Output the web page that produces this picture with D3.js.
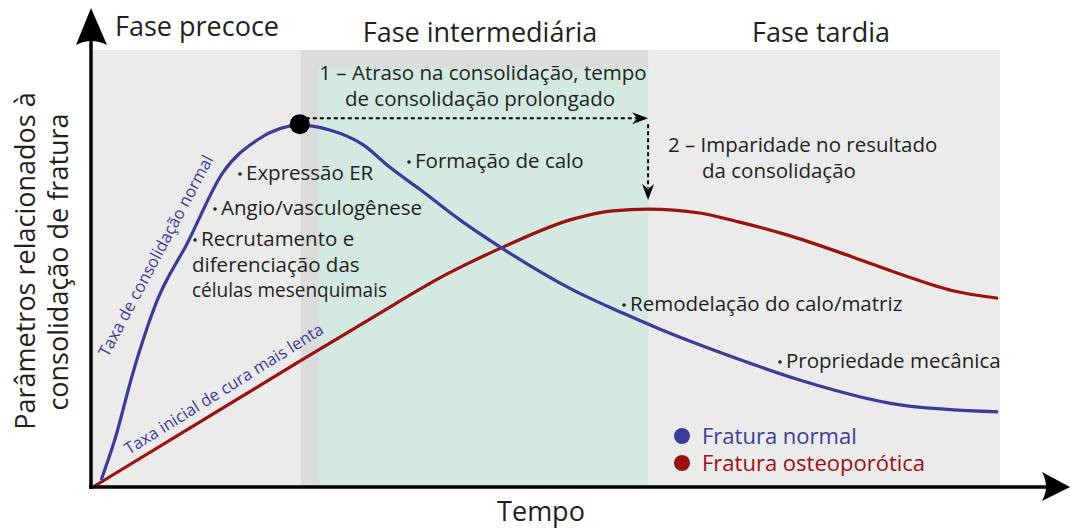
<!DOCTYPE html>
<html>
<head>
<meta charset="utf-8">
<script src="https://cdn.jsdelivr.net/npm/d3@7"></script>
<style>
  body { margin: 0; background: #fff; }
  svg text { font-family: "Open Sans", "Noto Sans", sans-serif; fill: #231f20; }
</style>
</head>
<body>
<svg id="chart" width="1070" height="528"></svg>
<script>
// curves: [tempo, valor] (arbitrary units, 0..100)
var normalCurve = [
  [0.9, 1.6], [2.4, 10.8], [4.4, 26.1], [7.1, 42.8], [10.4, 55.8], [14.3, 71.9],
  [18.1, 79.4], [22.8, 82.8], [26.1, 81.7], [29.8, 78.3], [32.7, 73.2], [36.1, 68.0],
  [40.8, 60.6], [45.2, 54.5], [52.9, 45.1], [58.4, 39.8], [62.2, 36.4], [70.6, 29.7],
  [77.9, 24.5], [89.0, 18.8], [99.8, 17.2]
];
var osteoCurve = [
  [0, 0], [11.8, 14.9], [22.8, 28.8], [30.9, 38.9], [39.0, 48.7], [45.2, 54.9],
  [52.9, 61.3], [57.3, 63.2], [61.2, 63.6], [66.9, 62.7], [71.3, 60.6], [76.5, 57.7],
  [83.8, 52.6], [89.3, 48.5], [94.8, 44.9], [99.8, 43.2]
];

// phases (tempo limits)
var phaseNames = ["Fase precoce", "Fase intermediária", "Fase tardia"];
var phaseBreaks = [0, 22.9, 61.2, 100];
var greenStart = 24.9;
var peak = [22.8, 82.8];

var bullets = [
  "Expressão ER", "Angio/vasculogênese", "Recrutamento e",
  "Formação de calo", "Remodelação do calo/matriz", "Propriedade mecânica"
];
var legendItems = ["Fratura normal", "Fratura osteoporótica"];

var BLUE = "#3d3b98";
var RED = "#9b1010";

var svg = d3.select("#chart");

var x = d3.scaleLinear().domain([0, 100]).range([93, 1000]);
var y = d3.scaleLinear().domain([0, 100]).range([487, 50]);

// backgrounds
svg.append("rect")
  .attr("x", x(0)).attr("y", y(100))
  .attr("width", x(100) - x(0)).attr("height", y(0) - y(100))
  .attr("fill", "#ebebeb");
svg.append("rect")
  .attr("x", x(phaseBreaks[1])).attr("y", y(100))
  .attr("width", x(phaseBreaks[2]) - x(phaseBreaks[1])).attr("height", y(0) - y(100))
  .attr("fill", "#dcdcdc");
svg.append("rect")
  .attr("x", x(greenStart)).attr("y", y(95.9))
  .attr("width", x(phaseBreaks[2]) - x(greenStart)).attr("height", y(0) - y(95.9))
  .attr("fill", "#d3e9e1");

// phase titles
var titleX = [197, 480, 821];
var titleY = [36, 42, 42];
svg.selectAll("text.phase")
  .data(phaseNames)
  .join("text")
  .attr("class", "phase")
  .attr("x", (d, i) => titleX[i])
  .attr("y", (d, i) => titleY[i])
  .attr("text-anchor", "middle")
  .attr("font-size", 27)
  .text(d => d);

// curves
var line = d3.line()
  .x(d => x(d[0]))
  .y(d => y(d[1]))
  .curve(d3.curveMonotoneX);

svg.append("path")
  .datum(osteoCurve)
  .attr("d", line)
  .attr("fill", "none")
  .attr("stroke", RED)
  .attr("stroke-width", 3.2);

svg.append("path")
  .datum(normalCurve)
  .attr("d", line)
  .attr("fill", "none")
  .attr("stroke", BLUE)
  .attr("stroke-width", 3.2);

// dotted arrows
var topY = y(84.4);
var cornerX = x(phaseBreaks[2]);
svg.append("line")
  .attr("x1", x(peak[0]) + 6).attr("y1", topY)
  .attr("x2", cornerX - 10).attr("y2", topY)
  .attr("stroke", "#000").attr("stroke-width", 2)
  .attr("stroke-dasharray", "4,3");
svg.append("path")
  .attr("d", `M${cornerX},${topY} L${cornerX - 16},${topY - 6} L${cornerX - 11},${topY} L${cornerX - 16},${topY + 6} Z`)
  .attr("fill", "#000");
svg.append("line")
  .attr("x1", cornerX).attr("y1", topY + 6)
  .attr("x2", cornerX).attr("y2", 188)
  .attr("stroke", "#000").attr("stroke-width", 2)
  .attr("stroke-dasharray", "4,3");
svg.append("path")
  .attr("d", `M${cornerX},200 L${cornerX - 6},184 L${cornerX},189 L${cornerX + 6},184 Z`)
  .attr("fill", "#000");

// peak dot
svg.append("circle")
  .attr("cx", x(peak[0])).attr("cy", y(peak[1]) - 1)
  .attr("r", 10)
  .attr("fill", "#000");

// annotation 1 and 2
var ann = svg.append("g").attr("font-size", 20.5);
ann.append("text").attr("x", 483).attr("y", 80).attr("text-anchor", "middle")
  .text("1 – Atraso na consolidação, tempo");
ann.append("text").attr("x", 480).attr("y", 106).attr("text-anchor", "middle")
  .text("de consolidação prolongado");
ann.append("text").attr("x", 668).attr("y", 152).text("2 – Imparidade no resultado");
ann.append("text").attr("x", 702).attr("y", 178).text("da consolidação");

// bullets
var bulletPos = [[238, 180], [213, 215], [193, 246], [407, 168], [622, 311], [778, 368]];
var bg = svg.append("g").attr("font-size", 20.5);
bullets.forEach(function(b, i) {
  bg.append("circle")
    .attr("cx", bulletPos[i][0] + 2).attr("cy", bulletPos[i][1] - 6)
    .attr("r", 1.8).attr("fill", "#231f20");
  bg.append("text")
    .attr("x", bulletPos[i][0] + 8).attr("y", bulletPos[i][1])
    .text(b);
});
bg.append("text").attr("x", 192).attr("y", 272).text("diferenciação das");
bg.append("text").attr("x", 192).attr("y", 297)
  .attr("textLength", 195).attr("lengthAdjust", "spacingAndGlyphs")
  .text("células mesenquimais");

// curve labels
svg.append("text")
  .attr("transform", "translate(108,358) rotate(-62)")
  .attr("font-size", 16.6)
  .style("fill", BLUE)
  .text("Taxa de consolidação normal");
svg.append("text")
  .attr("transform", "translate(129,455) rotate(-32)")
  .attr("font-size", 16.6)
  .style("fill", BLUE)
  .text("Taxa inicial de cura mais lenta");

// legend
var legColors = [BLUE, RED];
var lg = svg.append("g");
legendItems.forEach(function(name, i) {
  lg.append("circle")
    .attr("cx", 682).attr("cy", 436 + i * 27)
    .attr("r", 8)
    .attr("fill", legColors[i]);
  lg.append("text")
    .attr("x", 702).attr("y", 444 + i * 27)
    .attr("font-size", 22)
    .style("fill", legColors[i])
    .text(name);
});

// axes
svg.append("line")
  .attr("x1", 91).attr("y1", 489).attr("x2", 91).attr("y2", 30)
  .attr("stroke", "#000").attr("stroke-width", 3.5);
svg.append("path")
  .attr("d", "M91,8 L107,45 Q91,37 76,45 Z")
  .attr("fill", "#000");
svg.append("line")
  .attr("x1", 89).attr("y1", 487).attr("x2", 1050).attr("y2", 487)
  .attr("stroke", "#000").attr("stroke-width", 3.5);
svg.append("path")
  .attr("d", "M1070,487 L1042,472 Q1050,487 1042,501 Z")
  .attr("fill", "#000");

// axis titles
svg.append("text")
  .attr("x", 541).attr("y", 521)
  .attr("text-anchor", "middle")
  .attr("font-size", 27)
  .text("Tempo");
svg.append("text")
  .attr("transform", "translate(35,261) rotate(-90)")
  .attr("text-anchor", "middle")
  .attr("font-size", 27)
  .text("Parâmetros relacionados à");
svg.append("text")
  .attr("transform", "translate(68,262) rotate(-90)")
  .attr("text-anchor", "middle")
  .attr("font-size", 27)
  .text("consolidação de fratura");
</script>
</body>
</html>
